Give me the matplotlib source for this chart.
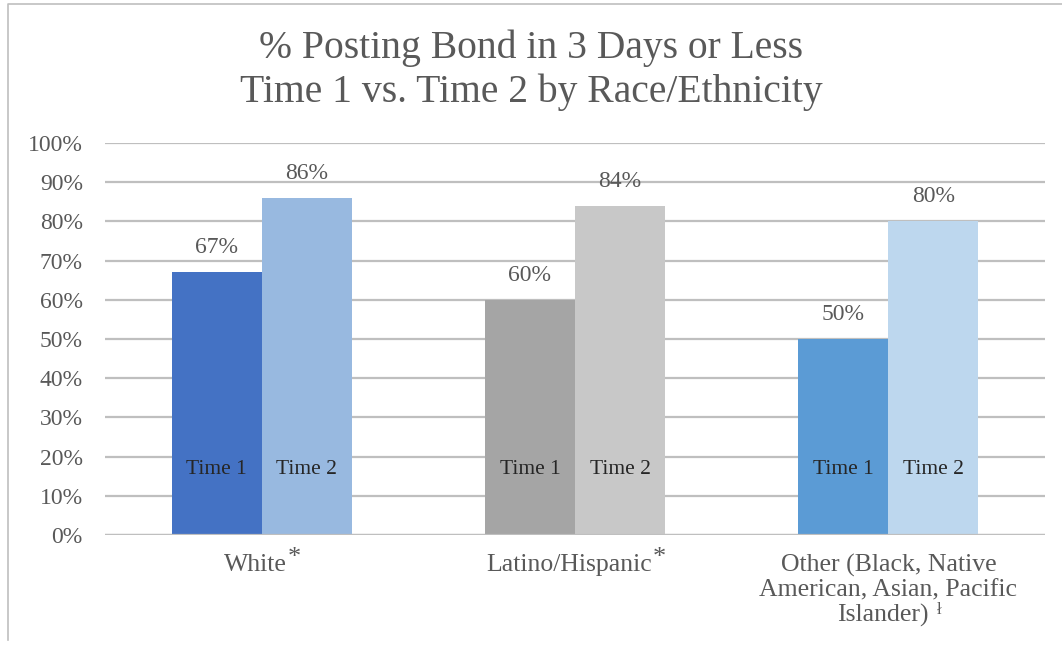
import matplotlib.pyplot as plt
from matplotlib.lines import Line2D
import numpy as np

plt.rcParams['font.family'] = ['Liberation Serif', 'DejaVu Serif']

categories = ['White', 'Latino/Hispanic', 'Other (Black, Native\nAmerican, Asian, Pacific\nIslander)']
marks = ['*', '*', 'ł']
time1 = [67, 60, 50]
time2 = [86, 84, 80]
time1_colors = ['#4472C4', '#A5A5A5', '#5B9BD5']
time2_colors = ['#98B9E0', '#C8C8C8', '#BDD7EE']
yticks = list(range(0, 101, 10))

W, H = 1062, 645
fig = plt.figure(figsize=(W / 100, H / 100), dpi=100)
ax = fig.add_axes([105 / W, 1 - 535 / H, 940 / W, 392 / H])

x = np.arange(len(categories))
w = 0.2875
b1 = ax.bar(x - w / 2, time1, w, color=time1_colors, zorder=3)
b2 = ax.bar(x + w / 2, time2, w, color=time2_colors, zorder=3)

label_col = '#595959'
for bars, vals in ((b1, time1), (b2, time2)):
    for r, v in zip(bars, vals):
        cx = r.get_x() + r.get_width() / 2
        ax.text(cx, v + 6.3, f'{v}%', ha='center', va='center',
                fontsize=17, color=label_col, zorder=4)

for i in x:
    ax.text(i - w / 2, 16.6, 'Time 1', ha='center', va='center',
            fontsize=15.5, color='#262626', zorder=4)
    ax.text(i + w / 2, 16.6, 'Time 2', ha='center', va='center',
            fontsize=15.5, color='#262626', zorder=4)

ax.set_xlim(-0.5, len(categories) - 0.5)
ax.set_ylim(0, 100)
ax.set_yticks(yticks)
ax.set_yticklabels([f'{t}%' for t in yticks], fontsize=17, color=label_col)
ax.tick_params(axis='y', length=0, pad=16)
ax.set_xticks([])
ax.yaxis.grid(True, color='#BFBFBF', linewidth=1.6, zorder=0)
ax.set_axisbelow(True)
for s in ax.spines.values():
    s.set_visible(False)
ax.axhline(0, color='#BFBFBF', linewidth=1.6, zorder=5)

# category labels; the footnote mark sits raised after the last line
fig.canvas.draw()
renderer = fig.canvas.get_renderer()
cat_fs = 18.5
for i, (cat, m) in enumerate(zip(categories, marks)):
    lines = cat.split('\n')
    xc = ax.transData.transform((i, 0))[0]
    y0 = 565
    for k, ln in enumerate(lines):
        yl = y0 + 25 * k
        last = k == len(lines) - 1
        shift = 6 if last else 0
        t = fig.text((xc - shift) / W, 1 - yl / H, ln, ha='center', va='center',
                     fontsize=cat_fs, color=label_col)
        if last:
            bb = t.get_window_extent(renderer)
            if m == '*':
                fig.text((bb.x1 + 1) / W, 1 - (yl - 7) / H, m, ha='left',
                         va='center', fontsize=19, color=label_col)
            else:
                fig.text((bb.x1 + 9) / W, 1 - (yl - 5) / H, m, ha='left',
                         va='center', fontsize=12, color=label_col)

fig.text(0.5, 1 - 48 / H, '% Posting Bond in 3 Days or Less', ha='center',
         va='center', fontsize=28.5, color='#595959')
fig.text(0.5, 1 - 92 / H, 'Time 1 vs. Time 2 by Race/Ethnicity', ha='center',
         va='center', fontsize=28.5, color='#595959')

# outer frame (top and left edges)
fig.add_artist(Line2D([8 / W, 8 / W, 1.0], [1 - 640 / H, 1 - 4 / H, 1 - 4 / H],
                      transform=fig.transFigure, color='#BFBFBF', linewidth=1.2))

fig.savefig('out.png', dpi=100)
